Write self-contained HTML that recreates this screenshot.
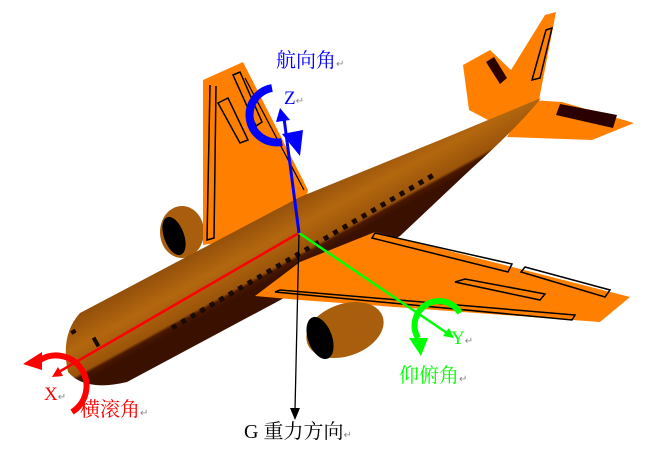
<!DOCTYPE html>
<html><head><meta charset="utf-8"><style>
html,body{margin:0;padding:0;background:#fff;}
svg{display:block}
text{font-family:"Liberation Serif","Noto Serif CJK SC",serif;}
.r{fill:#888;font-size:10px}
</style></head><body>
<svg width="656" height="453" viewBox="0 0 656 453" xmlns="http://www.w3.org/2000/svg">
<defs>
<linearGradient id="fus" gradientUnits="userSpaceOnUse" x1="250" y1="222" x2="279" y2="275">
<stop offset="0" stop-color="#94500a"/><stop offset="0.45" stop-color="#b3670f"/><stop offset="0.85" stop-color="#9a5409"/><stop offset="0.9" stop-color="#4a1800"/><stop offset="1" stop-color="#3a1000"/>
</linearGradient>
</defs>
<ellipse cx="182" cy="232" rx="22" ry="26" fill="#a85e0c"/>
<ellipse cx="174" cy="236" rx="10" ry="20" fill="#000" transform="rotate(-20 174 236)"/>
<polygon points="203,80 243,62 308,190 300,230 203,245" fill="#ff8000"/>
<polyline points="210,85 207,240 214,238 216,86" fill="none" stroke="#000" stroke-width="1.5"/>
<polygon points="233,75 240,72 262,122 256,126" fill="none" stroke="#000" stroke-width="1.5"/>
<polygon points="218,103 228,98 248,140 240,143" fill="none" stroke="#000" stroke-width="1.5"/>
<line x1="245" y1="78" x2="304" y2="190" stroke="#000" stroke-width="1.2"/>
<polygon points="463,65 490,50 511,70 545,15 556,12 539,100 507,130 469,110" fill="#ff8000"/>
<polygon points="486,62 494,57 507,78 500,84" fill="#2a0000"/>
<polygon points="546,30 552,28 540,78 532,80" fill="none" stroke="#000" stroke-width="1.5"/>
<polygon points="530,100 562,102 634,123 592,140 507,137" fill="#ff8000"/>
<polygon points="560,104 617,115 613,128 556,115" fill="#2a0000"/>
<path d="M80,313 L300,197 L440,140 Q500,115 541,98 Q520,125 470,170 L400,236 L127,382 Q85,392 68,372 Q60,335 80,313 Z" fill="url(#fus)"/>
<g fill="#1a0a00">
<rect x="71" y="330" width="5" height="4" transform="rotate(-30 73 332)"/>
<rect x="94" y="337" width="4" height="10" transform="rotate(-30 96 342)"/>
</g>
<line x1="172" y1="328" x2="437" y2="173" stroke="#1a0a00" stroke-width="5" stroke-dasharray="5 6"/>
<polygon points="375,232 630,297 600,322 300,300 255,296 300,262" fill="#ff8000"/>
<polygon points="372,238 375,233 512,264 508,272" fill="none" stroke="#000" stroke-width="1.5"/>
<polygon points="521,272 525,267 610,290 605,297" fill="none" stroke="#000" stroke-width="1.5"/>
<polygon points="455,282 465,279 545,294 540,300" fill="none" stroke="#000" stroke-width="1.5"/>
<polygon points="275,292 280,290 575,315 572,320" fill="none" stroke="#000" stroke-width="1.5"/>
<ellipse cx="345" cy="330" rx="40" ry="26" fill="#a85e0c" transform="rotate(-20 345 330)"/>
<ellipse cx="320" cy="338" rx="12" ry="22" fill="#000" transform="rotate(-20 320 338)"/>
<line x1="299" y1="233" x2="295" y2="410" stroke="#000" stroke-width="1.3"/>
<polygon points="290,408 300,408 295,420" fill="#000"/>
<line x1="299" y1="233" x2="57" y2="373" stroke="#ff0000" stroke-width="2.5"/>
<polygon points="52,377 58,367 63,376" fill="#ff0000"/>
<line x1="299" y1="233" x2="447" y2="333" stroke="#00ff00" stroke-width="2.5"/>
<polygon points="454,338 443,336 449,328" fill="#00ff00"/>
<line x1="299" y1="233" x2="284" y2="118" stroke="#0000ff" stroke-width="3"/>
<polygon points="280,108 276,122 290,120" fill="#0000ff"/>
<path d="M272,88 A26,26 0 0 0 282,142" fill="none" stroke="#0000ff" stroke-width="8"/>
<polygon points="282,134 303,130 300,156" fill="#0000ff"/>
<path d="M460,313 A22,22 0 0 0 418,338" fill="none" stroke="#00ff00" stroke-width="6"/>
<polygon points="409,338 428,338 421,356" fill="#00ff00"/>
<path d="M72,412 A24,24 0 0 0 40,360" fill="none" stroke="#ff0000" stroke-width="6"/>
<polygon points="42,352 42,370 23,364" fill="#ff0000"/>
<text x="276" y="67" font-size="20" fill="#0000ff">航向角<tspan class="r">↵</tspan></text>
<text x="284" y="104" font-size="19" fill="#0000ff">Z<tspan class="r">↵</tspan></text>
<text x="44" y="400" font-size="19" fill="#ff0000">X<tspan class="r">↵</tspan></text>
<text x="80" y="416" font-size="20" fill="#ff0000">横滚角<tspan class="r">↵</tspan></text>
<text x="451" y="344" font-size="19" fill="#00ff00">Y<tspan class="r">↵</tspan></text>
<text x="399" y="382" font-size="20" fill="#00ff00">仰俯角<tspan class="r">↵</tspan></text>
<text x="244" y="438" font-size="20" fill="#000">G 重力方向<tspan class="r">↵</tspan></text>
</svg>
</body></html>
